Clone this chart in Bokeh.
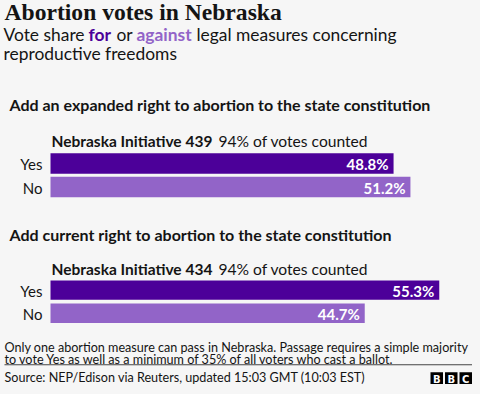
from bokeh.plotting import figure
from bokeh.models import Range1d, Label, BoxAnnotation
from bokeh.embed import file_html
from bokeh.resources import INLINE

# ---------------- data ----------------
title = "Abortion votes in Nebraska"
headings = ["Add an expanded right to abortion to the state constitution",
            "Add current right to abortion to the state constitution"]
measures = ["Nebraska Initiative 439", "Nebraska Initiative 434"]
counted = ["94% of votes counted", "94% of votes counted"]
options = ["Yes", "No"]
yes_values = [48.8, 55.3]
no_values = [51.2, 44.7]
note_lines = ["Only one abortion measure can pass in Nebraska. Passage requires a simple majority",
              "to vote Yes as well as a minimum of 35% of all voters who cast a ballot."]
source = "Source: NEP/Edison via Reuters, updated 15:03 GMT (10:03 EST)"

# ---------------- style / layout ----------------
W, H = 472, 386
BG = "#f6f6f6"
TXT = "#141414"
YES_C = "#4c0099"
NO_C = "#9264c8"
SANS = "Lato"
SQ = 135 / 143
BASE_FIX = 0.27  # em fraction: lift text so its baseline sits where intended


def ty(ref_y):
    # identity for the upper body, gentle squeeze for the lower part so it fits
    return ref_y - 1 if ref_y <= 250 else 249 + (ref_y - 250) * SQ


def tx(ref_x):
    return ref_x - 1


PX_PER_PCT = 7.03
BAR_LEFT = tx(51)  # screen px of 0%

p = figure(width=W, height=H, output_backend="svg", toolbar_location=None,
           x_range=Range1d(-BAR_LEFT / PX_PER_PCT, (W - BAR_LEFT) / PX_PER_PCT),
           y_range=Range1d(H, 0),
           x_axis_location=None, y_axis_location=None, min_border=0)
p.grid.visible = False
p.outline_line_color = None
p.background_fill_color = BG
p.border_fill_color = BG


def label(x, y, text, size, color=TXT, style="normal", font=SANS, align="left"):
    p.add_layout(Label(x=tx(x), y=ty(y) - BASE_FIX * size, x_units="screen", y_units="data",
                       text=text, text_font=font, text_font_size=f"{size}px", text_color=color,
                       text_font_style=style, text_baseline="alphabetic", text_align=align))


# title & subtitle
label(5, 18.5, title, 23.6, style="bold", font="Liberation Serif")
label(4, 39.5, "Vote share ", 17.4)
label(89, 39.5, "for", 17.4, color=YES_C, style="bold")
label(117, 39.5, "or", 17.4)
label(137, 39.5, "against", 17.4, color=NO_C, style="bold")
label(197, 39.5, "legal measures concerning", 17.4)
label(4, 58.5, "reproductive freedoms", 17.4)

heading_y = [109, 239]
measure_y = [146, 275]
bar_y = [[164, 187.5], [293, 317.5]]
text_y = [[169, 193], [298.5, 323]]

for i in range(2):
    label(10, heading_y[i], headings[i], 16, style="bold")
    label(52, measure_y[i], measures[i], 15.5, style="bold")
    label(219, measure_y[i], counted[i], 15.6)
    vals = [yes_values[i], no_values[i]]
    cols = [YES_C, NO_C]
    ys = [ty(v) for v in bar_y[i]]
    h = 20.5 if i == 0 else 20.5 * SQ
    p.hbar(y=ys, left=0, right=vals, height=h, color=cols, line_color=None)
    for j in range(2):
        label(43, text_y[i][j], options[j], 15, align="right")
        p.add_layout(Label(x=vals[j], y=ty(text_y[i][j]) - BASE_FIX * 15, x_units="data", y_units="data",
                           x_offset=-5, text=f"{vals[j]}%", text_font=SANS,
                           text_font_size="15px", text_color="white", text_font_style="bold",
                           text_baseline="alphabetic", text_align="right"))

label(5, 357, note_lines[0], 12.6)
label(5, 370.5, note_lines[1], 12.6)

p.add_layout(BoxAnnotation(left=tx(5), right=tx(475), left_units="screen", right_units="screen",
                           top=ty(371.5), bottom=ty(372.7), fill_color="#444444", fill_alpha=1,
                           line_color=None))
label(5, 389.5, source, 12.6)

# BBC blocks
for k, letter in enumerate("BBC"):
    x0 = 431 + k * 14.5
    p.add_layout(BoxAnnotation(left=tx(x0), right=tx(x0 + 12.5), left_units="screen", right_units="screen",
                               top=ty(380), bottom=ty(392.5), fill_color="#000000", fill_alpha=1,
                               line_color=None))
    label(x0 + 6.25, 390.5, letter, 10, color="white", style="bold", font="DejaVu Sans", align="center")

html = file_html(p, INLINE)
html = html.replace("<head>", f"<head><style>body{{background:{BG};}}</style>", 1)
open("out.html", "w").write(html)
